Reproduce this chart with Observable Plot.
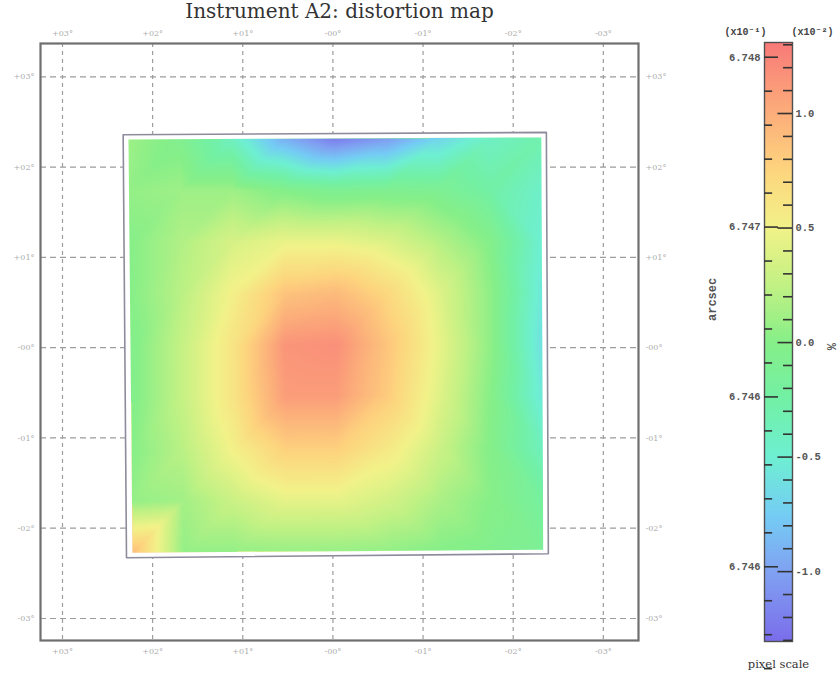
<!DOCTYPE html>
<html>
<head>
<meta charset="utf-8">
<script src="https://cdn.jsdelivr.net/npm/d3@7"></script>
<script src="https://cdn.jsdelivr.net/npm/@observablehq/plot@0.6"></script>
<style>
  body { margin: 0; background: #fff; }
  #chart { position: relative; width: 840px; height: 677px; overflow: hidden; }
  #chart svg { position: absolute; top: 0; }
  #map { left: 0; }
  #bar { left: 700px; }
</style>
</head>
<body>
<div id="chart"></div>
<script>
// ---- chart values ----
const title = "Instrument A2: distortion map";

// sky-offset grid (degrees) and their labels
const gridTicks = [3, 2, 1, 0, -1, -2, -3];
const gridLabels = ["+03°", "+02°", "+01°", "-00°", "-01°", "-02°", "-03°"];

// detector outline corners (TL, TR, BR, BL, back to TL), degrees
const outlineX = [2.327, -2.368, -2.390, 2.290, 2.327];
const outlineY = [2.359, 2.385, -2.283, -2.327, 2.359];

// corners of the sampled pixel-scale field (TL, TR, BR, BL), degrees
const fieldCornerX = [2.268, -2.312, -2.334, 2.224];
const fieldCornerY = [2.307, 2.329, -2.239, -2.272];

// pixel scale deviation (% x10^-2) sampled on a 9 x 9 grid, rows top to bottom
const pixelScaleGrid = [
  [ 0.10, -0.05, -0.40, -0.92, -1.22, -1.05, -0.70, -0.42, -0.30],
  [ 0.06,  0.10,  0.10, -0.02, -0.10, -0.08, -0.10, -0.25, -0.45],
  [ 0.00,  0.18,  0.36,  0.46,  0.46,  0.38,  0.20, -0.02, -0.50],
  [ 0.00,  0.22,  0.52,  0.86,  0.92,  0.72,  0.40,  0.04, -0.56],
  [-0.04,  0.27,  0.62,  1.15,  1.18,  0.85,  0.45,  0.04, -0.62],
  [-0.04,  0.27,  0.62,  1.10,  1.10,  0.80,  0.40,  0.00, -0.56],
  [ 0.00,  0.22,  0.52,  0.78,  0.78,  0.58,  0.30, -0.02, -0.40],
  [ 0.06,  0.12,  0.30,  0.44,  0.44,  0.34,  0.16,  0.00, -0.20],
  [ 0.90,  0.06,  0.06,  0.08,  0.08,  0.06,  0.00, -0.05, -0.12]
];

// colour ramp (% x10^-2)
const colorStops = [-1.31, -1.0, -0.75, -0.5, -0.25, 0.0, 0.25, 0.5, 0.75, 1.0, 1.31];
const colorHex = ["#7a6cea", "#80a2f2", "#74cdf4", "#6eefd2", "#72f0a6", "#86ef88",
                  "#c2f184", "#f2f288", "#fdd57e", "#fcae7a", "#f87a78"];

// colour bar: percent axis (x10^-2)
const pctRange = [-1.305, 1.31];
const pctMajor = [1.0, 0.5, 0.0, -0.5, -1.0];
const pctMajorLabels = ["1.0", "0.5", "0.0", "-0.5", "-1.0"];
const pctMinor = [1.3, 1.2, 1.1, 0.9, 0.8, 0.7, 0.6, 0.4, 0.3, 0.2, 0.1,
                  -0.1, -0.2, -0.3, -0.4, -0.6, -0.7, -0.8, -0.9, -1.1, -1.2, -1.3];

// colour bar: arcsec axis (x10^-1)
const arcsecMajor = [6.748, 6.747, 6.746, 6.745];
const arcsecMajorLabels = ["6.748", "6.747", "6.746", "6.746"];
const arcsecMinor = [6.7478, 6.7476, 6.7474, 6.7472, 6.7468, 6.7466, 6.7464, 6.7462,
                     6.7458, 6.7456, 6.7454, 6.7452, 6.7448, 6.7446, 6.7444];
// arcsec value at 0 % and percent units per arcsec unit
const arcsecAtZero = 6.74632;
const pctPerArcsec = 741.5;
const toPct = a => (a - arcsecAtZero) * pctPerArcsec;

// ---- derived tables ----
const lerp = (a, b, t) => a + (b - a) * t;
const nRows = pixelScaleGrid.length, nCols = pixelScaleGrid[0].length;
const field = [];
pixelScaleGrid.forEach((row, r) => row.forEach((v, c) => {
  const u = c / (nCols - 1), w = r / (nRows - 1);
  const tx = lerp(fieldCornerX[0], fieldCornerX[1], u), ty = lerp(fieldCornerY[0], fieldCornerY[1], u);
  const bx = lerp(fieldCornerX[3], fieldCornerX[2], u), by = lerp(fieldCornerY[3], fieldCornerY[2], u);
  field.push({x: lerp(tx, bx, w), y: lerp(ty, by, w), v});
}));
const outline = outlineX.map((x, i) => ({x, y: outlineY[i]}));
const gridLabel = d => gridLabels[gridTicks.indexOf(d)];

const colorOpts = {type: "linear", domain: colorStops, range: colorHex, interpolate: "rgb"};
const labelGray = "#ababab";
const axisStyle = {tickSize: 0, tickFormat: gridLabel, color: labelGray, fontSize: 8, label: null};

// ---- distortion map ----
const map = Plot.plot({
  width: 700, height: 677,
  marginLeft: 40, marginRight: 62, marginTop: 43, marginBottom: 37,
  style: {fontFamily: "'DejaVu Serif', serif", background: "transparent"},
  x: {domain: [3.244, -3.39], axis: null},
  y: {domain: [-3.244, 3.37], axis: null},
  color: colorOpts,
  marks: [
    Plot.ruleX(gridTicks, {x: d => d, stroke: "#9c9c9c", strokeWidth: 1.2, strokeDasharray: "4,4"}),
    Plot.ruleY(gridTicks, {y: d => d, stroke: "#9c9c9c", strokeWidth: 1.2, strokeDasharray: "6,4"}),
    Plot.line(outline, {x: "x", y: "y", fill: "white", stroke: "#8e8c9c", strokeWidth: 1.6}),
    Plot.raster(field, {x: "x", y: "y", fill: "v", interpolate: "barycentric"}),
    Plot.frame({stroke: "#6f6f6f", strokeWidth: 2.2}),
    Plot.axisX(gridTicks, {...axisStyle, anchor: "top", tickPadding: 8}),
    Plot.axisX(gridTicks, {...axisStyle, anchor: "bottom", tickPadding: 8}),
    Plot.axisY(gridTicks, {...axisStyle, anchor: "left", tickPadding: 6}),
    Plot.axisY(gridTicks, {...axisStyle, anchor: "right", tickPadding: 7}),
    Plot.text([title], {frameAnchor: "top", lineAnchor: "bottom", dy: -26, fontSize: 20, fill: "#333"})
  ]
});
map.id = "map";

// keep the sampled field inside its detector footprint
{
  const sx = map.scale("x"), sy = map.scale("y");
  const ns = "http://www.w3.org/2000/svg";
  const defs = document.createElementNS(ns, "defs");
  const clip = document.createElementNS(ns, "clipPath");
  clip.setAttribute("id", "field-clip");
  const poly = document.createElementNS(ns, "polygon");
  poly.setAttribute("points", fieldCornerX.map((x, i) => `${sx.apply(x)},${sy.apply(fieldCornerY[i])}`).join(" "));
  clip.append(poly);
  defs.append(clip);
  map.prepend(defs);
  const raster = map.querySelector('g[aria-label="raster"]');
  if (raster) raster.setAttribute("clip-path", "url(#field-clip)");
}

// ---- colour bar ----
const mono = "'Liberation Mono', monospace";
const bar = Plot.plot({
  width: 140, height: 677,
  marginLeft: 64, marginRight: 48, marginTop: 42, marginBottom: 36,
  style: {fontFamily: "'DejaVu Serif', serif", background: "transparent", overflow: "visible"},
  x: {domain: [0, 1], axis: null},
  y: {domain: pctRange, axis: null},
  color: colorOpts,
  marks: [
    Plot.raster({x1: 0, x2: 1, y1: pctRange[0], y2: pctRange[1], fill: (x, y) => y}),
    Plot.frame({stroke: "#4f4f4f", strokeWidth: 1.4}),
    Plot.ruleY(arcsecMajor, {y: toPct, x1: 0, x2: 0.5, stroke: "#333", strokeWidth: 1.6}),
    Plot.ruleY(arcsecMinor, {y: toPct, x1: 0, x2: 0.29, stroke: "#333", strokeWidth: 1.6}),
    Plot.ruleY(pctMajor, {y: d => d, x1: 0.48, x2: 1, stroke: "#333", strokeWidth: 1.6}),
    Plot.ruleY(pctMinor, {y: d => d, x1: 0.68, x2: 1, stroke: "#333", strokeWidth: 1.6}),
    Plot.text(arcsecMajor, {y: toPct, x: 0, dx: -4, text: (d, i) => arcsecMajorLabels[i], textAnchor: "end",
      fontFamily: mono, fontSize: 10.5, fontWeight: "bold", fill: "#555"}),
    Plot.text(pctMajor, {y: d => d, x: 1, dx: 3, text: (d, i) => pctMajorLabels[i], textAnchor: "start",
      fontFamily: mono, fontSize: 10.5, fontWeight: "bold", fill: "#555"}),
    Plot.text(["(x10⁻¹)"], {frameAnchor: "top-left", dx: -19, dy: -15, textAnchor: "middle",
      fontFamily: mono, fontSize: 10, fontWeight: "bold", fill: "#444"}),
    Plot.text(["(x10⁻²)"], {frameAnchor: "top-right", dx: 20, dy: -15, textAnchor: "middle",
      fontFamily: mono, fontSize: 10, fontWeight: "bold", fill: "#444"}),
    Plot.text(["arcsec"], {frameAnchor: "left", dx: -52, dy: -21, rotate: -90,
      fontFamily: mono, fontSize: 12, fontWeight: "bold", fill: "#555"}),
    Plot.text(["%"], {frameAnchor: "right", dx: 40, dy: 1, rotate: -90,
      fontFamily: mono, fontSize: 12, fontWeight: "bold", fill: "#555"}),
    Plot.text(["pixel scale"], {frameAnchor: "bottom", dy: 26, fontSize: 11.5, fill: "#333"})
  ]
});
bar.id = "bar";

const chart = document.getElementById("chart");
chart.append(map, bar);
</script>
</body>
</html>
